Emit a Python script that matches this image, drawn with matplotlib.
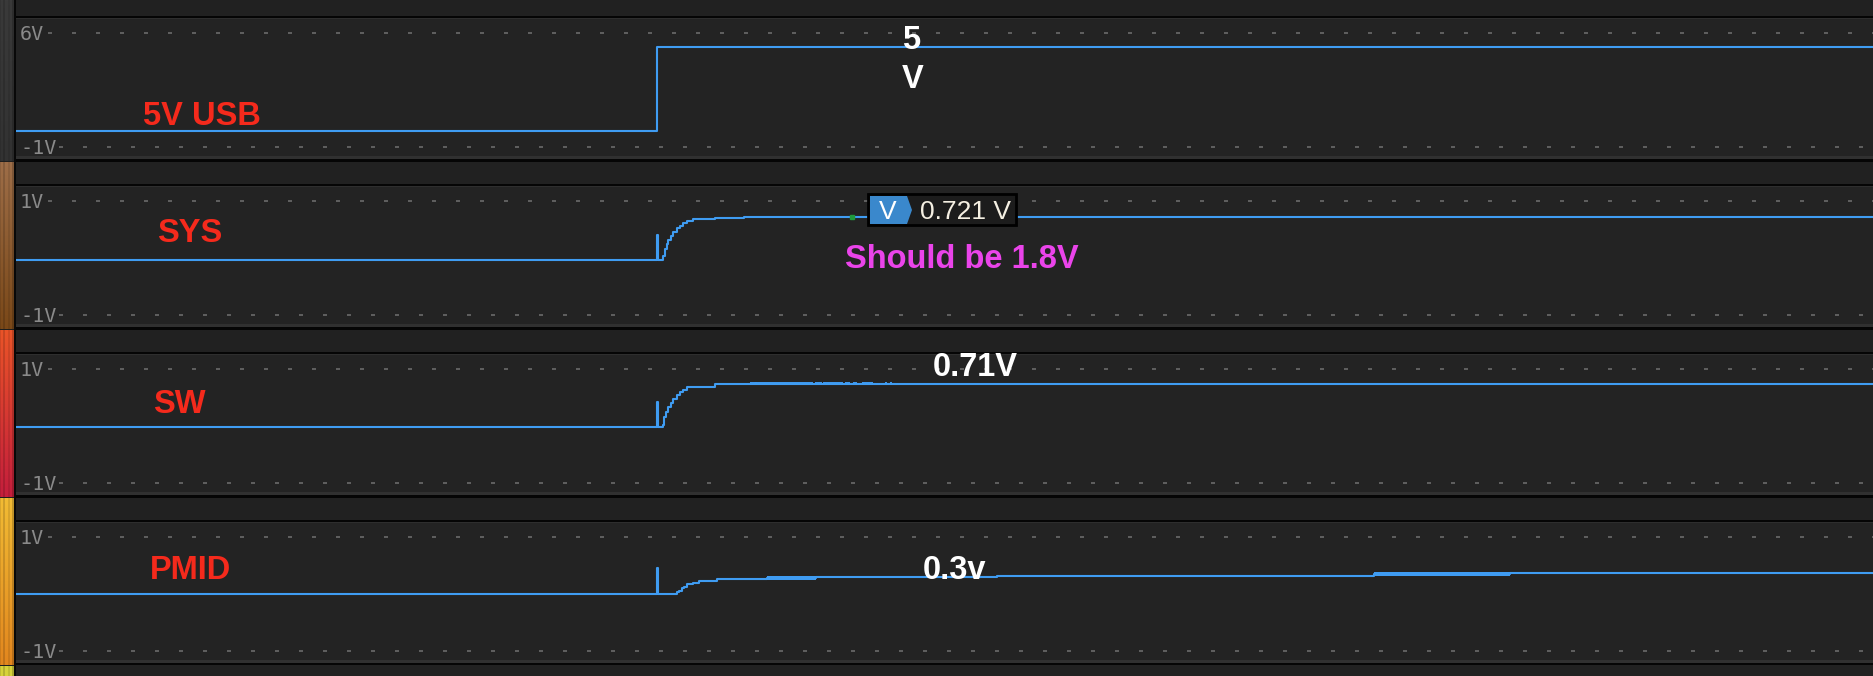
import numpy as np
import matplotlib
matplotlib.use('Agg')
import matplotlib.pyplot as plt
from matplotlib.patches import Rectangle, Polygon
from matplotlib.colors import to_rgb

plt.rcParams['lines.scale_dashes'] = False

# channel setup (time in ms, values in volts)
names = ['5V USB', 'SYS', 'SW', 'PMID']
range_top = [6, 1, 1, 1]
range_bottom = [-1, -1, -1, -1]
top_labels = ['6V', '1V', '1V', '1V']
bottom_labels = ['-1V', '-1V', '-1V', '-1V']

usb_t = [0, 34.52, 100]
usb_v = [0.0, 5.15, 5.15]

sys_t = [0, 34.52, 34.56, 34.82, 34.95, 35.04, 35.13, 35.26, 35.40, 35.58,
         35.76, 35.93, 36.15, 36.44, 37.64, 39.20, 100]
sys_v = [-0.03, 0.41, -0.03, 0.04, 0.16, 0.25, 0.31, 0.38, 0.45, 0.52,
         0.57, 0.61, 0.65, 0.68, 0.71, 0.72, 0.72]

sw_t = [0, 34.52, 34.56, 34.82, 34.90, 35.00, 35.13, 35.26, 35.40, 35.58,
        35.76, 35.93, 36.15, 36.44, 37.64, 100]
sw_v = [-0.01, 0.42, -0.01, 0.02, 0.15, 0.25, 0.33, 0.40, 0.47, 0.54,
        0.60, 0.64, 0.68, 0.69, 0.73, 0.73]
# little glitches on top of SW
sw_glitch_start = [39.53, 39.80, 43.03, 43.46, 44.64, 45.07, 45.56, 46.80, 47.07]
sw_glitch_end = [39.90, 42.92, 43.40, 44.53, 44.91, 45.29, 46.15, 46.90, 47.17]
sw_glitch_v = [0.755] * len(sw_glitch_start)

pmid_t = [0, 34.52, 34.56, 35.58, 35.70, 35.85, 35.97, 36.15, 36.44, 36.76,
          37.73, 40.44, 43.08, 52.83, 73.13, 80.45, 100]
pmid_v = [0.0, 0.45, 0.0, 0.03, 0.06, 0.10, 0.13, 0.17, 0.20, 0.22,
          0.26, 0.28, 0.30, 0.32, 0.35, 0.37, 0.37]
# min/max envelope regions on PMID
pmid_band_t0 = [0, 40.44, 73.13]
pmid_band_t1 = [34.52, 43.08, 80.45]
pmid_band_lo = [-0.012, 0.25, 0.31]
pmid_band_hi = [0.012, 0.31, 0.39]

cursor_t = 45.02
cursor_v = 0.721

traces = [(usb_t, usb_v), (sys_t, sys_v), (sw_t, sw_v), (pmid_t, pmid_v)]

TRACE = '#3f9cf2'
W, H = 1873, 676


def fx(px):
    return px / W


def fy(py):
    return 1 - py / H


fig = plt.figure(figsize=(W / 100, H / 100), dpi=100, facecolor='#212121')


def frect(x0, y0, x1, y1, color, z=1):
    fig.patches.append(Rectangle((fx(x0), fy(y1)), (x1 - x0) / W, (y1 - y0) / H,
                                 transform=fig.transFigure, facecolor=color,
                                 edgecolor='none', zorder=z))


# colored strip on the left
segs = [(0, 161, '#3a3a3a', '#323232'), (161, 329, '#9e6e48', '#7a4818'),
        (329, 497, '#ea5428', '#c41e3c'), (497, 665, '#f2bc34', '#e2861e'),
        (665, 676, '#d6d23a', '#d6d23a')]
img = np.zeros((H, 14, 3))
shade = np.array([0.9, 1, 1, 0.85, 0.85, 1, 1, 1, 0.9, 0.9, 1, 1, 0.8, 0.8])
for y0, y1, c0, c1 in segs:
    f = np.linspace(0, 1, y1 - y0)[:, None]
    col = (1 - f) * np.array(to_rgb(c0)) + f * np.array(to_rgb(c1))
    img[y0:y1] = col[:, None, :] * shade[None, :, None]
    if y0 > 0:
        img[y0] = 0.12
lax = fig.add_axes([0, 0, 14 / W, 1])
lax.imshow(img, aspect='auto', interpolation='nearest')
lax.axis('off')
frect(14, 0, 16, H, '#080808')

axes = []
for k in range(4):
    base = 168 * k
    vt, vb = range_top[k], range_bottom[k]
    s = 114 / (vt - vb)
    # borders around the panel
    frect(16, 16 + base, W, 18 + base, '#050505')
    frect(16, 18 + base, W, 19 + base, '#2e2e2e')
    frect(16, 156 + base, W, 159 + base, '#303030')
    frect(16, 159 + base, W, 162 + base, '#050505')

    ax = fig.add_axes([fx(16), fy(156 + base), (W - 16) / W, 137 / H])
    ax.set_facecolor('#232323')
    ax.set_xlim(0, 100)
    ax.set_ylim(vb - 9 / s, vt + 14 / s)
    ax.set_xticks([])
    ax.set_yticks([])
    for sp in ax.spines.values():
        sp.set_visible(False)

    # dotted range marks
    ax.axhline(vt, xmin=32 / 1857, xmax=1, color='#6a6a6a', lw=1.2,
               linestyle=(0, (2.88, 14.4)))
    ax.axhline(vb, xmin=43 / 1857, xmax=1, color='#6a6a6a', lw=1.2,
               linestyle=(0, (2.88, 14.4)))
    tr = ax.get_yaxis_transform()
    ax.text(4 / 1857, vt - 7 / s, top_labels[k], transform=tr, color='#8a8a8a',
            fontsize=14.5, family='DejaVu Sans Mono', va='baseline', ha='left')
    ax.text(4 / 1857, vb - 7 / s, bottom_labels[k], transform=tr, color='#8a8a8a',
            fontsize=14.5, family='DejaVu Sans Mono', va='baseline', ha='left')

    t, v = traces[k]
    ax.plot(t, v, drawstyle='steps-post', color=TRACE, lw=1.5, zorder=3)
    axes.append(ax)

frect(16, 665, W, 676, '#212121')

# extra trace details
axes[2].hlines(sw_glitch_v, sw_glitch_start, sw_glitch_end, color=TRACE, lw=1.4, zorder=3)
for t0, t1, lo, hi in zip(pmid_band_t0, pmid_band_t1, pmid_band_lo, pmid_band_hi):
    axes[3].fill_between([t0, t1], [lo, lo], [hi, hi], color=TRACE, lw=0, zorder=3)
axes[1].plot([cursor_t], [cursor_v], 's', color='#1f9a3c', ms=3, zorder=4)

# measurement box on SYS
fig.patches.append(Rectangle((fx(868), fy(225)), 148 / W, 31 / H, transform=fig.transFigure,
                             facecolor='#1c1c1c', edgecolor='black', lw=2, zorder=4))
fig.patches.append(Polygon([(fx(870), fy(196)), (fx(907), fy(196)), (fx(912), fy(210)),
                            (fx(907), fy(224)), (fx(870), fy(224))],
                           closed=True, transform=fig.transFigure, facecolor='#3a88cc',
                           edgecolor='none', zorder=5))
fig.text(fx(888), fy(219), 'V', color='white', fontsize=19, family='Liberation Sans',
         ha='center', va='baseline', zorder=6)
fig.text(fx(966), fy(219), '0.721 V', color='#f4efe2', fontsize=19,
         family='Liberation Sans', ha='center', va='baseline', zorder=6)

# hand-written notes
big = dict(fontsize=23.5, family='Liberation Sans', weight='bold', ha='center',
           va='baseline', zorder=6)
fig.text(fx(202), fy(125), '5V USB', color='#f52a1c', **big)
fig.text(fx(190), fy(242.5), 'SYS', color='#f52a1c', **big)
fig.text(fx(179), fy(413), 'SW', color='#f52a1c', **big)
fig.text(fx(190), fy(579), 'PMID', color='#f52a1c', **big)
fig.text(fx(911), fy(49), '5', color='white', **big)
fig.text(fx(913), fy(88), 'V', color='white', **big)
fig.text(fx(962), fy(268), 'Should be 1.8V', color='#ea44ea', **big)
fig.text(fx(975.5), fy(375.5), '0.71V', color='white', **big)
fig.text(fx(954.5), fy(579), '0.3v', color='white', **big)

fig.savefig('out.png', dpi=100, facecolor=fig.get_facecolor())
